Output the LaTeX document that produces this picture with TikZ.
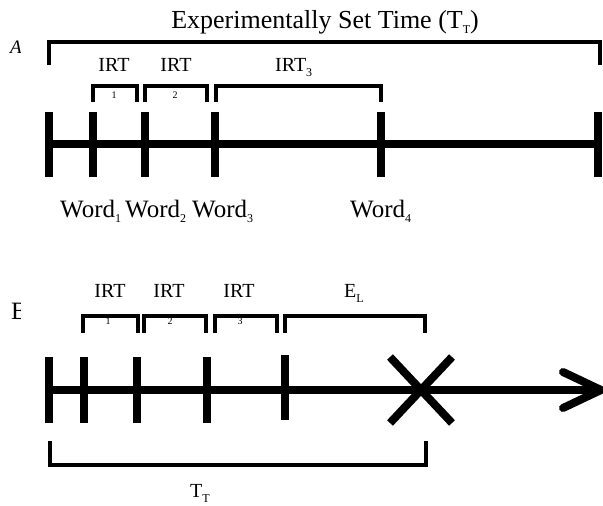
\documentclass[tikz,border=0pt]{standalone}
\usepackage{fontspec}
\setmainfont{Liberation Serif}
\usetikzlibrary{positioning, calc}

\newcommand{\lowsub}[1]{\raisebox{-5pt}{\fontsize{12}{12}\selectfont #1}}

\begin{document}
\begin{tikzpicture}[x=1pt, y=-1pt,
    axis/.style={line width=8pt},
    tickmark/.style={line width=8pt},
    bigbrace/.style={line width=4.5pt},
    brace/.style={line width=3.5pt},
    txt/.style={inner sep=0pt, font=\fontsize{20}{24}\selectfont},
    wordtxt/.style={inner sep=0pt, font=\fontsize{25}{28}\selectfont},
    tinysub/.style={inner sep=0pt, font=\fontsize{10}{10}\selectfont}]

    \useasboundingbox (0,0) rectangle (603,506);

    % ================= Panel labels (cut at the left edge) =================
    \begin{scope}
        \clip (0,0) rectangle (20,506);
        \node[txt, anchor=base west, font=\fontsize{19}{22}\selectfont\itshape] (labA) at (10,53) {A};
        \node[txt, anchor=base west, font=\fontsize{25}{28}\selectfont] (labB) at (11,319) {B};
    \end{scope}

    % ================= A: timeline =================
    \coordinate (A0) at (49,144);
    \coordinate (A1) at (93,144);
    \coordinate (A2) at (145,144);
    \coordinate (A3) at (215,144);
    \coordinate (A4) at (381,144);
    \coordinate (A5) at (598,144);

    \draw[axis] (A0) -- (A5);
    \foreach \t in {A0,A1,A2,A3,A4,A5}
        \draw[tickmark] (\t) ++(0,-32) -- ++(0,65);

    % total time bracket and title
    \node[txt, anchor=base, font=\fontsize{26}{28}\selectfont] (title) at (325,28) {Experimentally Set Time (T\lowsub{T})};
    \draw[bigbrace] ($(A0)+(0,-79)$) |- ($(A5)+(2,-102)$) -- ++(0,23);

    % IRT brackets
    \node[tinysub] (sa1) at (114,95) {1};
    \node[tinysub] (sa2) at (175,95) {2};
    \foreach \l/\r in {93/137, 145/207, 216/381}
        \draw[brace] (\l,102) |- (\r,86) -- (\r,102);
    \node[txt, anchor=base] (irtA1) at (114,71) {IRT};
    \node[txt, anchor=base] (irtA2) at (176,71) {IRT};
    \node[txt, anchor=base west] (irtA3) at (275,71) {IRT\lowsub{3}};

    % words
    \node[wordtxt, anchor=base west] (w1) at (60,217) {Word\lowsub{1}};
    \node[wordtxt, anchor=base west] (w2) at (125,217) {Word\lowsub{2}};
    \node[wordtxt, anchor=base west] (w3) at (192,217) {Word\lowsub{3}};
    \node[wordtxt, anchor=base west] (w4) at (350,217) {Word\lowsub{4}};

    % ================= B: timeline =================
    \coordinate (B0) at (49,390);
    \coordinate (B1) at (84,390);
    \coordinate (B2) at (137,390);
    \coordinate (B3) at (207,390);
    \coordinate (B4) at (285,390);
    \coordinate (Bx) at (421,390);
    \coordinate (Bend) at (601,390);

    \draw[axis] (B0) -- (Bend);
    \foreach \t in {B0,B1,B2,B3}
        \draw[tickmark] (\t) ++(0,-33) -- ++(0,66);
    \draw[tickmark] (B4) ++(0,-35) -- ++(0,65);

    % lapse mark and arrow head
    \draw[tickmark] ($(Bx)+(-31,-33)$) -- ($(Bx)+(31,33)$);
    \draw[tickmark] ($(Bx)+(-31,33)$) -- ($(Bx)+(31,-33)$);
    \draw[tickmark, line cap=round, line join=round] ($(Bend)+(-38,-18)$) -- (Bend) -- ++(-38,18);

    % IRT brackets
    \node[tinysub] (sb1) at (108,321) {1};
    \node[tinysub] (sb2) at (170,321) {2};
    \node[tinysub] (sb3) at (240,321) {3};
    \foreach \l/\r in {83/138, 144/206, 215/277, 285/425}
        \draw[brace] (\l,333) |- (\r,316) -- (\r,333);
    \node[txt, anchor=base] (irtB1) at (110,297) {IRT};
    \node[txt, anchor=base] (irtB2) at (169,297) {IRT};
    \node[txt, anchor=base] (irtB3) at (239,297) {IRT};
    \node[txt, anchor=base west] (lapse) at (344,297) {E\lowsub{L}};

    % total time bracket below
    \draw[brace] ($(B0)+(1,51)$) |- ($(Bx)+(5,75)$) -- ++(0,-24);
    \node[txt, anchor=base west] (total) at (190,497) {T\lowsub{T}};

\end{tikzpicture}
\end{document}
